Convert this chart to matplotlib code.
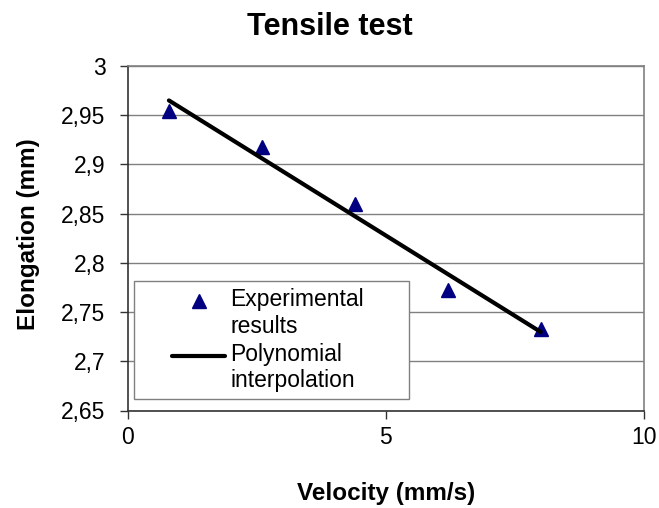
import numpy as np
import matplotlib
matplotlib.use("Agg")
import matplotlib.pyplot as plt
from matplotlib.ticker import FuncFormatter, MultipleLocator
from matplotlib.legend_handler import HandlerLine2D

plt.rcParams['font.family'] = ['Liberation Sans', 'DejaVu Sans']

velocity = [0.8, 2.6, 4.4, 6.2, 8.0]
elongation = [2.954, 2.918, 2.860, 2.772, 2.733]
title = "Tensile test"
xlabel = "Velocity (mm/s)"
ylabel = "Elongation (mm)"
series_names = ["Experimental\nresults", "Polynomial\ninterpolation"]

W, H = 659, 508
fig = plt.figure(figsize=(W / 100, H / 100), dpi=100)
L, R, T, B = 127.6, 644.0, 66.0, 410.5
ax = fig.add_axes([L / W, 1 - B / H, (R - L) / W, (B - T) / H])

coef = np.polyfit(velocity, elongation, 1)
xfit = np.linspace(min(velocity), max(velocity), 50)
yfit = np.polyval(coef, xfit)

ax.plot(velocity, elongation, linestyle='none', marker='^', color='#000080',
        markersize=10.5, label=series_names[0], zorder=3)
ax.plot(xfit, yfit, color='black', linewidth=3, label=series_names[1], zorder=4,
        solid_capstyle='round')

ax.set_xlim(0, 10)
ax.set_ylim(2.65, 3.0)
ax.xaxis.set_major_locator(MultipleLocator(5))
ax.yaxis.set_major_locator(MultipleLocator(0.05))
fmt = FuncFormatter(lambda v, p: ('%g' % round(v, 4)).replace('.', ','))
ax.xaxis.set_major_formatter(fmt)
ax.yaxis.set_major_formatter(fmt)

ax.grid(axis='y', color='#808080', linewidth=1.0)
ax.set_axisbelow(True)
for s in ['top', 'right']:
    ax.spines[s].set_color('#808080')
    ax.spines[s].set_linewidth(1.2)
for s in ['left', 'bottom']:
    ax.spines[s].set_color('#333333')
    ax.spines[s].set_linewidth(1.2)
ax.tick_params(axis='both', direction='out', length=6, width=1, color='#333333',
               labelsize=16.5)
ax.tick_params(axis='y', pad=10)
ax.tick_params(axis='x', pad=5)

fig.text(0.5, 1 - 35 / H, title, fontsize=22, fontweight='bold',
         ha='center', va='baseline')
fig.text((L + R) / 2 / W, 1 - 500 / H, xlabel, fontsize=17.5, fontweight='bold',
         ha='center', va='baseline')
fig.text(29 / W, 1 - 234 / H, ylabel, fontsize=17.5, fontweight='bold',
         ha='center', va='center', rotation=90)


class ShiftedHandler(HandlerLine2D):
    def __init__(self, dy, frac, **kw):
        super().__init__(**kw)
        self.dy = dy
        self.frac = frac

    def create_artists(self, legend, orig_handle, xdescent, ydescent, width,
                       height, fontsize, trans):
        arts = super().create_artists(legend, orig_handle, xdescent, ydescent,
                                      width, height, fontsize, trans)
        x0 = -xdescent
        for a in arts:
            xd = np.asarray(a.get_xdata(), float)
            yd = np.asarray(a.get_ydata(), float)
            a.set_xdata(x0 + (1 - self.frac) * width + (xd - x0) * self.frac)
            a.set_ydata(yd + self.dy)
        return arts


fs_leg = 16.5
handles, labels = ax.get_legend_handles_labels()
hm = {h: ShiftedHandler(dy=0.56 * fs_leg, frac=0.63) for h in handles}
leg = ax.legend(handles, labels, handler_map=hm, loc='lower left',
                bbox_to_anchor=(0.012, 0.0325, 0.5335, 0.34), mode='expand',
                fontsize=fs_leg,
                frameon=True, fancybox=False, edgecolor='#808080', framealpha=1,
                handlelength=3.7, handletextpad=0.22, borderpad=0.3,
                labelspacing=0.22, borderaxespad=0)
leg.get_frame().set_linewidth(1.0)
leg.set_zorder(5)

fig.savefig("out.png", dpi=100)
